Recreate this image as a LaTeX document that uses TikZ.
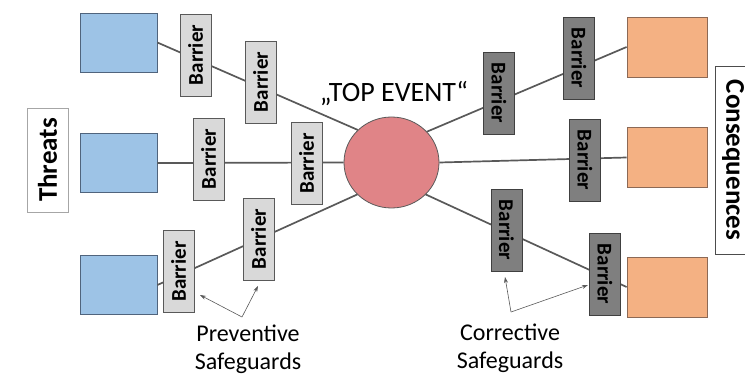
\documentclass[tikz,border=0pt]{standalone}
\usepackage{fontspec}
\setmainfont{Carlito}
\usetikzlibrary{arrows.meta,shapes.geometric}
\definecolor{thr}{RGB}{157,195,230}
\definecolor{thrline}{RGB}{80,100,125}
\definecolor{cons}{RGB}{244,177,131}
\definecolor{consline}{RGB}{140,105,85}
\definecolor{topev}{RGB}{224,132,135}
\definecolor{pbar}{RGB}{217,217,217}
\definecolor{cbar}{RGB}{127,127,127}
\definecolor{ink}{RGB}{89,89,89}

\begin{document}
\begin{tikzpicture}[x=1pt,y=1pt,>={Stealth[length=6pt,width=4pt]},
 threat/.style={draw=thrline,fill=thr,line width=.8pt,minimum width=77,minimum height=59,inner sep=0},
 conseq/.style={draw=consline,fill=cons,line width=.8pt,minimum width=80,minimum height=60,inner sep=0},
 barrier/.style={line width=.8pt,minimum width=82,minimum height=31,inner sep=0,font=\bfseries\fontsize{21}{25}\selectfont},
 prev/.style={barrier,draw=ink,fill=pbar,rotate=90},
 corr/.style={barrier,draw=black!75,fill=cbar,rotate=-90},
 link/.style={draw=ink,line width=1.7pt},
 pointer/.style={->,draw=ink,line width=.6pt},
 side/.style={draw,fill=white,line width=.8pt,inner sep=0,font=\bfseries\fontsize{27}{31}\selectfont},
 caption/.style={align=center,font=\fontsize{24}{28}\selectfont}]
\useasboundingbox (0,0) rectangle (745,-377);
\clip (0,0) rectangle (745,-377);
\node[side,draw=black!35,rotate=90,minimum width=104,minimum height=41] (threats) at (47.5,-160) {Threats};
\node[side,draw=black!70,rotate=-90,minimum width=188,minimum height=36] (conseqs) at (733,-160) {Consequences};
\node[threat] (t1) at (118.5,-42.5) {};
\node[threat] (t2) at (118.5,-163) {};
\node[threat] (t3) at (118.5,-285) {};
\node[conseq] (c1) at (667,-47) {};
\node[conseq] (c2) at (667,-157.5) {};
\node[conseq] (c3) at (667,-287) {};
\node[ellipse,draw=ink,line width=.8pt,fill=topev,minimum width=95,minimum height=91,inner sep=0] (ev) at (391.5,-162.5) {};
\node[font=\fontsize{28}{32}\selectfont] (evlabel) at (394,-94) {„TOP EVENT“};
\draw[link] (t1.east)--(ev.136);
\draw[link] (t2.east)--(ev.west);
\draw[link] (t3.east)--(ev.223);
\draw[link] (ev.41)--(c1.west);
\draw[link] (ev.east)--(c2.west);
\draw[link] (ev.-43)--(c3.west);
\node[prev] (pA) at (195.5,-55) {Barrier};
\node[prev] (pB) at (260.5,-82) {Barrier};
\node[prev] (pC) at (208.5,-159) {Barrier};
\node[prev] (pD) at (306.5,-163.5) {Barrier};
\node[prev] (pE) at (178.5,-271.5) {Barrier};
\node[prev] (pF) at (258.5,-239) {Barrier};
\node[corr] (cA) at (499,-93) {Barrier};
\node[corr] (cB) at (579,-58) {Barrier};
\node[corr] (cC) at (585,-160) {Barrier};
\node[corr] (cD) at (506.5,-230) {Barrier};
\node[corr] (cE) at (605,-274) {Barrier};
\node[caption] (prevlabel) at (248,-349) {Preventive\\Safeguards};
\node[caption] (corrlabel) at (510,-348) {Corrective\\Safeguards};
\coordinate (pv) at (242,-317);
\coordinate (pvE) at (200,-295);
\coordinate (pvF) at (258,-286);
\coordinate (cv) at (511,-312);
\coordinate (cvD) at (505,-277);
\coordinate (cvE) at (588,-285);
\foreach \a/\b in {pv/pvE,pv/pvF,cv/cvD,cv/cvE}{\draw[pointer] (\a)--(\b);}
\end{tikzpicture}
\end{document}
